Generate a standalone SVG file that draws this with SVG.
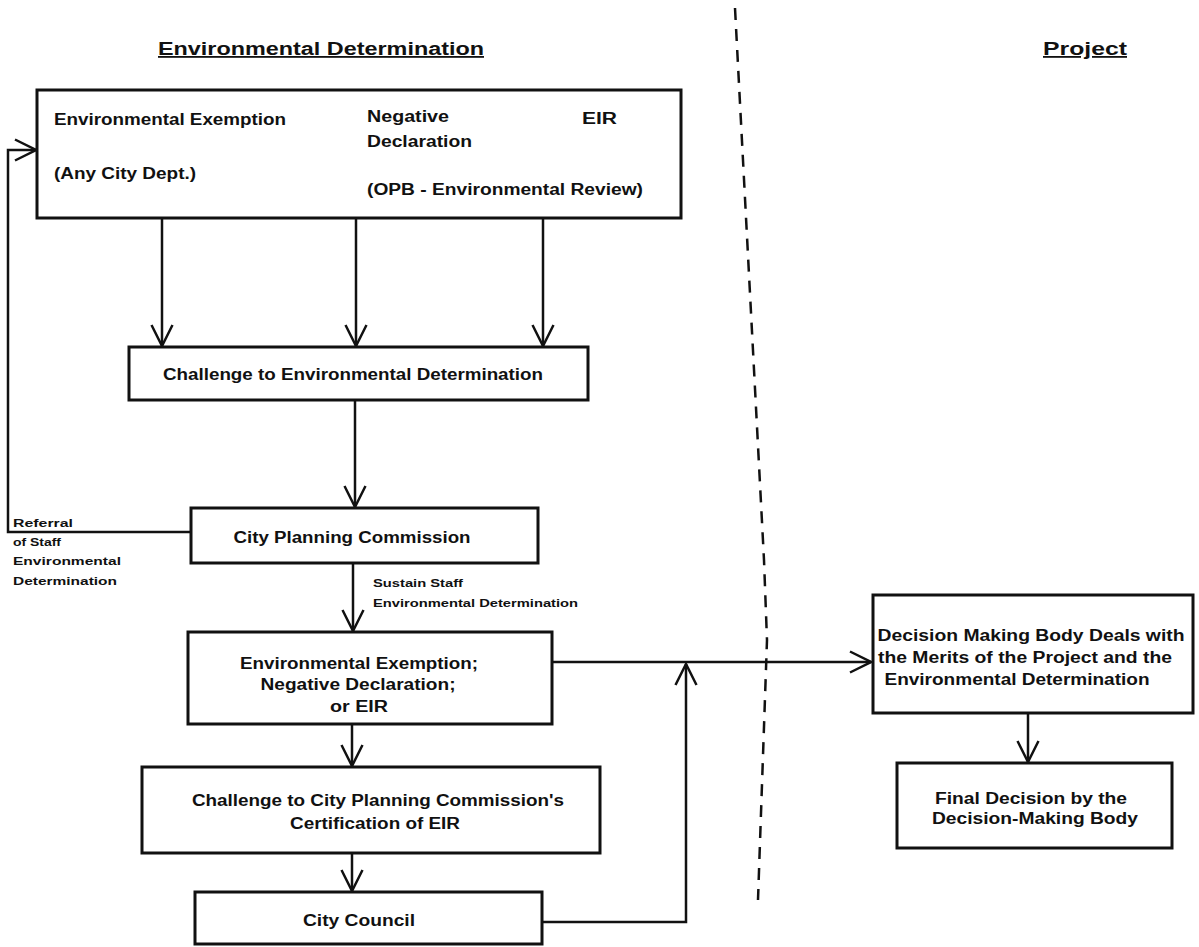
<svg xmlns="http://www.w3.org/2000/svg" width="1199" height="947" viewBox="0 0 1199 947">
<style>
.box{fill:#fff;stroke:#111;stroke-width:3}
.ln{fill:none;stroke:#111;stroke-width:2.5}
.t{font-family:"Liberation Sans",Arial,sans-serif;font-size:16px;fill:#111;font-weight:bold}
.s{font-family:"Liberation Sans",Arial,sans-serif;font-size:11.5px;fill:#111;font-weight:bold}
.h{font-family:"Liberation Sans",Arial,sans-serif;font-size:18px;fill:#111;font-weight:bold;text-decoration:underline}
</style>
<defs>
<marker id="ah" markerUnits="userSpaceOnUse" viewBox="0 0 24 24" refX="22" refY="12" markerWidth="24" markerHeight="24" orient="auto">
<path d="M1,1.5 L22,12 L1,22.5" fill="none" stroke="#111" stroke-width="2.5"/>
</marker>
</defs>
<rect width="1199" height="947" fill="#fff"/>

<g id="headers">
<text class="h" x="321" y="55" text-anchor="middle" textLength="326" lengthAdjust="spacingAndGlyphs">Environmental Determination</text>
<text class="h" x="1085" y="55" text-anchor="middle" textLength="84" lengthAdjust="spacingAndGlyphs">Project</text>
</g>

<polyline id="divider" points="735,8 764,560 767,640 758,900" fill="none" stroke="#111" stroke-width="2.5" stroke-dasharray="12,9"/>

<g id="connectors">
<line class="ln" x1="162" y1="218" x2="162" y2="346" marker-end="url(#ah)"/>
<line class="ln" x1="356" y1="218" x2="356" y2="346" marker-end="url(#ah)"/>
<line class="ln" x1="543" y1="218" x2="543" y2="346" marker-end="url(#ah)"/>
<line class="ln" x1="355" y1="400" x2="355" y2="507" marker-end="url(#ah)"/>
<line class="ln" x1="353" y1="563" x2="353" y2="631" marker-end="url(#ah)"/>
<line class="ln" x1="352" y1="724" x2="352" y2="766" marker-end="url(#ah)"/>
<line class="ln" x1="352" y1="853" x2="352" y2="891" marker-end="url(#ah)"/>
<polyline class="ln" points="191,532 8,532 8,150 36,150" marker-end="url(#ah)"/>
<line class="ln" x1="552" y1="662" x2="871" y2="662" marker-end="url(#ah)"/>
<polyline class="ln" points="542,922 686,922 686,664" marker-end="url(#ah)"/>
<line class="ln" x1="1028" y1="713" x2="1028" y2="762" marker-end="url(#ah)"/>
</g>

<g id="lbl-referral">
<text class="s" x="13" y="527" textLength="60" lengthAdjust="spacingAndGlyphs">Referral</text>
<text class="s" x="13" y="546" textLength="48" lengthAdjust="spacingAndGlyphs">of Staff</text>
<text class="s" x="13" y="565" textLength="108" lengthAdjust="spacingAndGlyphs">Environmental</text>
<text class="s" x="13" y="585" textLength="104" lengthAdjust="spacingAndGlyphs">Determination</text>
</g>
<g id="lbl-sustain">
<text class="s" x="373" y="587" textLength="90" lengthAdjust="spacingAndGlyphs">Sustain Staff</text>
<text class="s" x="373" y="607" textLength="205" lengthAdjust="spacingAndGlyphs">Environmental Determination</text>
</g>

<g id="n-top">
<rect class="box" x="37" y="90" width="644" height="128"/>
<text class="t" x="54" y="125" textLength="232" lengthAdjust="spacingAndGlyphs">Environmental Exemption</text>
<text class="t" x="54" y="179" textLength="142" lengthAdjust="spacingAndGlyphs">(Any City Dept.)</text>
<text class="t" x="367" y="122" textLength="82" lengthAdjust="spacingAndGlyphs">Negative</text>
<text class="t" x="367" y="147" textLength="105" lengthAdjust="spacingAndGlyphs">Declaration</text>
<text class="t" x="582" y="124" textLength="35" lengthAdjust="spacingAndGlyphs">EIR</text>
<text class="t" x="367" y="195" textLength="276" lengthAdjust="spacingAndGlyphs">(OPB - Environmental Review)</text>
</g>

<g id="n-challenge">
<rect class="box" x="129" y="347" width="459" height="53"/>
<text class="t" x="353" y="380" text-anchor="middle" textLength="380" lengthAdjust="spacingAndGlyphs">Challenge to Environmental Determination</text>
</g>

<g id="n-cpc">
<rect class="box" x="191" y="508" width="347" height="55"/>
<text class="t" x="352" y="543" text-anchor="middle" textLength="237" lengthAdjust="spacingAndGlyphs">City Planning Commission</text>
</g>

<g id="n-env">
<rect class="box" x="188" y="632" width="364" height="92"/>
<text class="t" x="359" y="669" text-anchor="middle" textLength="238" lengthAdjust="spacingAndGlyphs">Environmental Exemption;</text>
<text class="t" x="358" y="690" text-anchor="middle" textLength="195" lengthAdjust="spacingAndGlyphs">Negative Declaration;</text>
<text class="t" x="359" y="712" text-anchor="middle" textLength="58" lengthAdjust="spacingAndGlyphs">or EIR</text>
</g>

<g id="n-challenge-cpc">
<rect class="box" x="142" y="767" width="458" height="86"/>
<text class="t" x="378" y="806" text-anchor="middle" textLength="372" lengthAdjust="spacingAndGlyphs">Challenge to City Planning Commission's</text>
<text class="t" x="375" y="829" text-anchor="middle" textLength="170" lengthAdjust="spacingAndGlyphs">Certification of EIR</text>
</g>

<g id="n-council">
<rect class="box" x="195" y="892" width="347" height="52"/>
<text class="t" x="359" y="926" text-anchor="middle" textLength="112" lengthAdjust="spacingAndGlyphs">City Council</text>
</g>

<g id="n-decision">
<rect class="box" x="873" y="595" width="320" height="118"/>
<text class="t" x="1031" y="641" text-anchor="middle" textLength="307" lengthAdjust="spacingAndGlyphs">Decision Making Body Deals with</text>
<text class="t" x="1025" y="663" text-anchor="middle" textLength="294" lengthAdjust="spacingAndGlyphs">the Merits of the Project and the</text>
<text class="t" x="1017" y="685" text-anchor="middle" textLength="265" lengthAdjust="spacingAndGlyphs">Environmental Determination</text>
</g>

<g id="n-final">
<rect class="box" x="897" y="763" width="275" height="85"/>
<text class="t" x="1031" y="804" text-anchor="middle" textLength="192" lengthAdjust="spacingAndGlyphs">Final Decision by the</text>
<text class="t" x="1035" y="824" text-anchor="middle" textLength="206" lengthAdjust="spacingAndGlyphs">Decision-Making Body</text>
</g>
</svg>
